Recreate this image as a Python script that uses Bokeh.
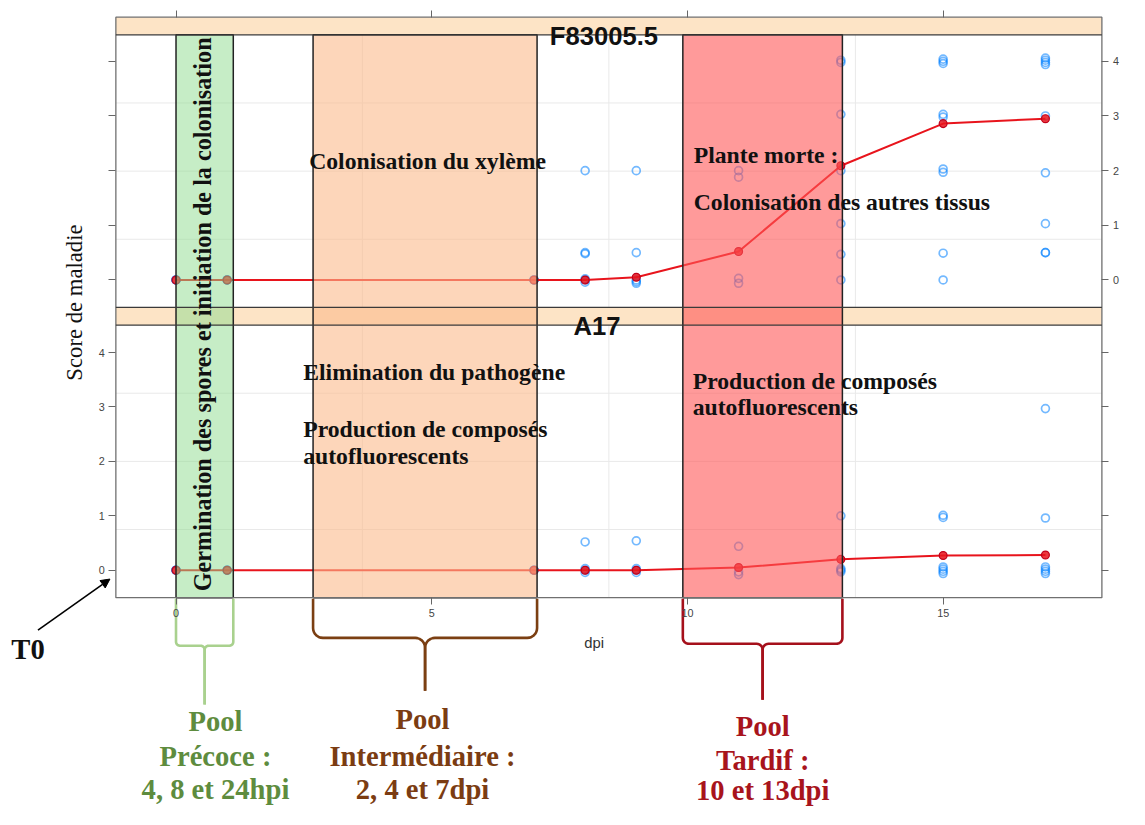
import numpy as np
from bokeh.plotting import figure
from bokeh.models import Range1d, LinearAxis, FixedTicker, Arrow, NormalHead
from bokeh.core.properties import value
from bokeh.embed import file_html
from bokeh.resources import INLINE

# ---------------- data ----------------
days = [0, 1, 7, 8, 9, 11, 13, 15, 17]
mean_f83 = [0, 0, 0, 0.0, 0.05, 0.52, 2.09, 2.86, 2.95]
mean_a17 = [0, 0, 0, 0.0, 0.0, 0.05, 0.20, 0.27, 0.28]
plants_f83 = [
    [0, 0, 0], [0, 0, 0], [0, 0, 0],
    [-0.04, 0, 0.02, 0.48, 0.5, 2.0],
    [-0.06, -0.03, 0, 0.5, 2.0],
    [-0.06, 0.03, 1.88, 2.0],
    [0, 0.47, 1.03, 2.0, 3.03, 3.98, 4.02],
    [0, 0.49, 1.97, 2.03, 2.98, 3.03, 3.96, 4.0, 4.04],
    [0.5, 0.5, 1.03, 1.96, 3.0, 3.94, 3.98, 4.02, 4.06],
]
plants_a17 = [
    [0, 0, 0], [0, 0, 0], [0, 0, 0],
    [-0.04, 0, 0.03, 0.52],
    [-0.04, 0, 0.03, 0.54],
    [-0.08, -0.03, 0.44],
    [-0.03, 0, 0.03, 1.0],
    [-0.06, -0.02, 0.02, 0.06, 0.97, 1.01],
    [-0.06, -0.02, 0.02, 0.06, 0.96, 2.97],
]
panel_names = ["F83005.5", "A17"]
x_ticks = [0, 5, 10, 15]
y_ticks = [0, 1, 2, 3, 4]
pool_start = [0.0, 2.68, 9.91]
pool_end = [1.12, 7.06, 13.03]
pool_lines = [["Pool", "Précoce :", "4, 8 et 24hpi"],
              ["Pool", "Intermédiaire :", "2, 4 et 7dpi"],
              ["Pool", "Tardif :", "10 et 13dpi"]]
phase_top = ["Colonisation du xylème", "Plante morte :", "Colonisation des autres tissus"]
phase_bot = ["Elimination du pathogène", "Production de composés", "autofluorescents"]
phase_early = "Germination des spores et initiation de la colonisation"

# ---------------- layout constants (reference pixel grid 1145 x 825) ----------------
W, H = 1129, 809                 # canvas size
RW, RH = 1145, 825               # reference grid mapped onto the canvas
FS = W / RW                      # font scale
KX, X0 = 51.867, 178.0           # px per dpi, px of dpi 0
TOP0, KYT = 285.0, 55.75         # top panel: px of score 0, px per unit
BOT0, KYB = 581.0, 55.5          # bottom panel
PL, PR = 117, 1117               # panel left / right
S1T, S1B, P1B, S2B, P2B = 17, 35, 313, 331, 609


def fpx(v):
    return f"{v * FS:.1f}px"


SERIF = value("Liberation Serif")
SANS = value("Liberation Sans")

p = figure(width=W, height=H, output_backend="svg", toolbar_location=None,
           x_range=Range1d(0, RW), y_range=Range1d(RH, 0),
           x_axis_type=None, y_axis_type=None, min_border=0,
           outline_line_color=None, background_fill_color="white")
p.extra_x_ranges = {"dpi": Range1d((0 - X0) / KX, (RW - X0) / KX)}
p.extra_y_ranges = {
    "top": Range1d((TOP0 - RH) / KYT, TOP0 / KYT),
    "bot": Range1d((BOT0 - RH) / KYB, BOT0 / KYB),
}

# strips
p.quad(left=[PL, PL], right=[PR, PR], top=[S1T, P1B], bottom=[S1B, S2B],
       fill_color="#fde4c6", line_color=None)

# faint grid: panel quarters
gx = [PL + (PR - PL) * k / 4 for k in (1, 2, 3)]
seg_x0, seg_y0, seg_x1, seg_y1 = [], [], [], []
for (a, b) in ((S1B, P1B), (S2B, P2B)):
    for g in gx:
        seg_x0.append(g); seg_x1.append(g); seg_y0.append(a); seg_y1.append(b)
    for k in (1, 2, 3):
        gy = a + (b - a) * k / 4
        seg_x0.append(PL); seg_x1.append(PR); seg_y0.append(gy); seg_y1.append(gy)
p.segment(seg_x0, seg_y0, seg_x1, seg_y1, line_color="#e9e9e9", line_width=1)

# points and mean lines
for rname, plants, means in (("top", plants_f83, mean_f83), ("bot", plants_a17, mean_a17)):
    xs = [d for d, vals in zip(days, plants) for _ in vals]
    ys = [v for vals in plants for v in vals]
    p.scatter(xs, ys, x_range_name="dpi", y_range_name=rname, marker="circle",
              size=8 * FS, fill_color=None, line_color="#0080ff", line_alpha=0.55, line_width=1.7)
    p.line(days, means, x_range_name="dpi", y_range_name=rname,
           line_color="#e8141c", line_width=2)
    p.scatter(days, means, x_range_name="dpi", y_range_name=rname, marker="circle",
              size=8 * FS, fill_color="#e8141c", fill_alpha=0.85, line_color="#c0001a",
              line_width=1.2)

# pool rectangles (semi-transparent over the panels)
p.quad(left=pool_start, right=pool_end, top=[S1B] * 3, bottom=[P2B] * 3, x_range_name="dpi",
       fill_color=["#8ddb8d", "#fcbb8c", "#ff5656"], fill_alpha=[0.5, 0.6, 0.6],
       line_color="#222222", line_width=1.5)

# borders of panels and strips
p.quad(left=[PL], right=[PR], top=[S1T], bottom=[P2B], fill_color=None,
       line_color="#707070", line_width=1.3)
p.segment([PL] * 3, [S1B, P1B, S2B], [PR] * 3, [S1B, P1B, S2B],
          line_color="#3a3a3a", line_width=1.2)

# braces under the pools
brace_style = [("#a9d18e", 610, 658, 718, 4), ("#7b3f12", 610, 650, 704, 10),
               ("#a5101b", 610, 656, 713, 6)]
bx, by, bc = [], [], []
t = np.linspace(0, np.pi / 2, 8)[1:]
for L, R, (col, y0, yh, y1, r) in zip(pool_start, pool_end, brace_style):
    M = (L + R) / 2
    rx = r / KX
    for side in (1, -1):
        E = L if side == 1 else R
        xs = [E, E] + list(E + side * rx * (1 - np.cos(t))) + [M - side * rx] \
             + list(M - side * rx + side * rx * np.sin(t)) + [M]
        ys = [y0, yh - r] + list(yh - r + r * np.sin(t)) + [yh] \
             + list(yh + r * (1 - np.cos(t))) + [y1]
        bx.append(xs); by.append(ys); bc.append(col)
p.multi_line(bx, by, line_color=bc, line_width=2.6, x_range_name="dpi")


# axes
def add_axis(side, loc, bounds, ticks, labels, **rn):
    ax = LinearAxis(fixed_location=loc, bounds=bounds, ticker=FixedTicker(ticks=ticks), **rn)
    ax.axis_line_color = None
    ax.major_tick_in = 0
    ax.major_tick_out = 7
    ax.major_tick_line_color = "#666666"
    ax.minor_tick_line_color = None
    ax.major_label_text_font = "Liberation Sans"
    ax.major_label_text_font_size = fpx(11)
    ax.major_label_text_color = "#444444" if labels else None
    ax.major_label_standoff = 4
    p.add_layout(ax, side)


xb = ((PL - X0) / KX, (PR - X0) / KX)
add_axis("below", P2B, xb, x_ticks, True, x_range_name="dpi")
add_axis("above", S1T, xb, x_ticks, False, x_range_name="dpi")
add_axis("right", PR, (-0.5, 4.48), y_ticks, True, y_range_name="top")
add_axis("left", PL, (-0.5, 4.48), y_ticks, False, y_range_name="top")
add_axis("left", PL, (-0.5, 4.5), y_ticks, True, y_range_name="bot")
add_axis("right", PR, (-0.5, 4.5), y_ticks, False, y_range_name="bot")

# strip titles
p.text(x=[612, 605], y=[S1B + 1, S2B + 1], text=panel_names, text_font=SANS,
       text_font_style="bold", text_font_size=fpx(26), text_align="center",
       text_baseline="alphabetic", text_color="#111111")

# axis titles
p.text(x=[75], y=[308], text=["Score de maladie"], angle=np.pi / 2, text_font=SERIF,
       text_font_size=fpx(23), text_align="center", text_baseline="middle", text_color="#111111")
p.text(x=[602], y=[655], text=["dpi"], text_font=SANS, text_font_size=fpx(15),
       text_align="center", text_baseline="middle", text_color="#333333")

# phase descriptions
p.text(x=[313, 703, 703], y=[164, 158, 205], text=phase_top, text_font=SERIF,
       text_font_style="bold", text_font_size=fpx(24), text_align="left",
       text_baseline="alphabetic", text_color="#111111")
p.text(x=[307, 307, 307, 702, 702], y=[379, 437, 465, 388, 415],
       text=phase_bot + phase_bot[1:], text_font=SERIF, text_font_style="bold",
       text_font_size=fpx(24), text_align="left", text_baseline="alphabetic",
       text_color="#111111")
p.text(x=[205], y=[320], text=[phase_early], angle=np.pi / 2, text_font=SERIF,
       text_font_style="bold", text_font_size=fpx(24.5), text_align="center",
       text_baseline="middle", text_color="#111111")

# pool captions
pool_cx = [218, 428, 773]
pool_base = [[735, 771, 805], [733, 771, 805], [740, 775, 806]]
pool_col = ["#5e8c3e", "#7b3c12", "#a8141c"]
tx, ty, tt, tc = [], [], [], []
for cx, bases, lines, col in zip(pool_cx, pool_base, pool_lines, pool_col):
    for b, s in zip(bases, lines):
        tx.append(cx); ty.append(b); tt.append(s); tc.append(col)
p.text(x=tx, y=ty, text=tt, text_color=tc, text_font=SERIF, text_font_style="bold",
       text_font_size=fpx(29), text_align="center", text_baseline="alphabetic")

# T0 marker
p.text(x=[11], y=[662], text=["T0"], text_font=SERIF, text_font_style="bold",
       text_font_size=fpx(29), text_align="left", text_baseline="alphabetic",
       text_color="#111111")
p.add_layout(Arrow(end=NormalHead(size=9, fill_color="black", line_color="black"),
                   x_start=38, y_start=642, x_end=111, y_end=590,
                   line_color="black", line_width=1.6))

open("out.html", "w").write(file_html(p, INLINE))
